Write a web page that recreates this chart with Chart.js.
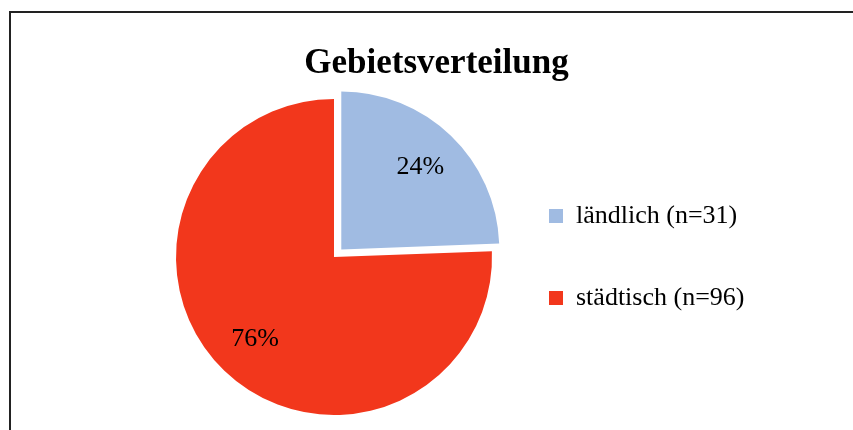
<!DOCTYPE html>
<html>
<head>
<meta charset="utf-8">
<script src="https://cdn.jsdelivr.net/npm/chart.js@4"></script>
<style>
  html, body { margin: 0; padding: 0; background: #fff; overflow: hidden; }
  #frame { position: absolute; left: 9px; top: 11px; width: 900px; height: 500px; border: 2px solid #222; }
  #wrap { position: absolute; left: 0; top: 0; width: 853px; height: 430px; }
</style>
</head>
<body>
<div id="frame"></div>
<div id="wrap"><canvas id="myChart"></canvas></div>
<script>
const chartTitle = 'Gebietsverteilung';
const categories = ['ländlich', 'städtisch'];
const counts = [31, 96];
const colors = ['#A0BBE2', '#F2371C'];

const total = counts.reduce((a, b) => a + b, 0);
const labels = categories.map((c, i) => c + ' (n=' + counts[i] + ')');

// title is centred over the full (cropped) chart box, so draw it by hand
const titlePlugin = {
  id: 'titleText',
  afterDraw(chart) {
    const ctx = chart.ctx;
    ctx.save();
    ctx.font = 'bold 35px "Liberation Serif"';
    ctx.fillStyle = '#000';
    ctx.textAlign = 'center';
    ctx.textBaseline = 'alphabetic';
    ctx.fillText(chartTitle, 436.5, 73);
    ctx.restore();
  }
};

// percentage labels inside the slices
const pctPlugin = {
  id: 'pctLabels',
  afterDatasetsDraw(chart) {
    const ctx = chart.ctx;
    const meta = chart.getDatasetMeta(0);
    ctx.save();
    ctx.font = '26px "Liberation Serif"';
    ctx.fillStyle = '#000';
    ctx.textAlign = 'center';
    ctx.textBaseline = 'middle';
    meta.data.forEach((arc, i) => {
      const mid = (arc.startAngle + arc.endAngle) / 2;
      const off = (arc.options.offset || 0) / 4;
      const d = off + arc.outerRadius * 0.72;
      const pct = Math.round(counts[i] / total * 100) + '%';
      ctx.fillText(pct, arc.x + Math.cos(mid) * d, arc.y + Math.sin(mid) * d);
    });
    ctx.restore();
  }
};

const config = {
  type: 'pie',
  data: {
    labels: labels,
    datasets: [{
      data: counts,
      backgroundColor: colors,
      borderWidth: 0,
      offset: [42, 0],
      hoverOffset: 0
    }]
  },
  options: {
    responsive: true,
    maintainAspectRatio: false,
    animation: false,
    radius: 158,
    layout: { padding: { left: 175, right: 106, top: 100, bottom: 16 } },
    plugins: {
      tooltip: { enabled: false },
      title: { display: false },
      legend: {
        position: 'right',
        maxWidth: 254,
        labels: {
          boxWidth: 14,
          boxHeight: 14,
          padding: 56,
          color: '#000',
          font: { family: '"Liberation Serif"', size: 26 }
        }
      }
    }
  },
  plugins: [titlePlugin, pctPlugin]
};

const myChart = new Chart(document.getElementById('myChart'), config);
</script>
</body>
</html>
